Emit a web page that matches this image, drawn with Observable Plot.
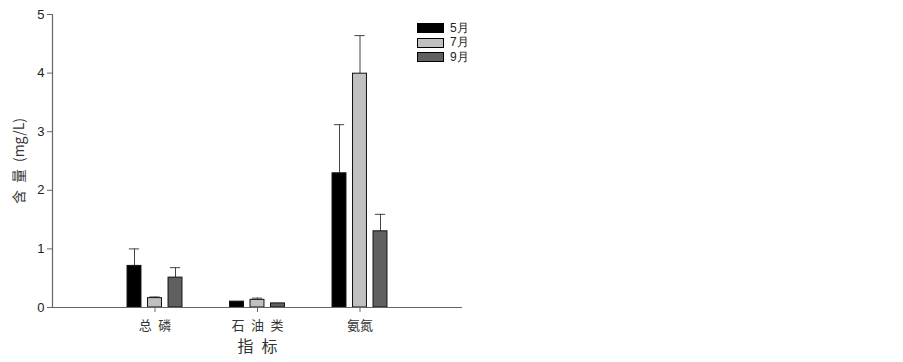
<!DOCTYPE html>
<html><head><meta charset="utf-8">
<script src="https://cdn.jsdelivr.net/npm/d3@7"></script>
<script src="https://cdn.jsdelivr.net/npm/@observablehq/plot@0.6"></script>
<style>
body{margin:0;background:#fff;}
#wrap{position:relative;width:903px;height:362px;}
#legend{position:absolute;left:417px;top:21px;font-family:"Liberation Sans",Arial,sans-serif;font-size:12px;color:#222;}
#legend .row{display:flex;align-items:center;height:14.5px;}
#legend .sw{width:25px;height:8px;border:1px solid #000;margin-right:6px;}
</style></head>
<body><div id="wrap"><div id="chart"></div><div id="legend"></div></div>
<script>
const categories = ["总磷", "石油类", "氨氮"];
const tickLabels = ["总\u2002磷", "石\u2002油\u2002类", "氨氮"];
const series = ["5月", "7月", "9月"];
const colors = ["#000000", "#c0c0c0", "#606060"];
const may = [0.71, 0.10, 2.29];
const jul = [0.16, 0.13, 3.99];
const sep = [0.51, 0.07, 1.30];
const mayErr = [0.29, 0.0, 0.83];
const julErr = [0.02, 0.03, 0.65];
const sepErr = [0.17, 0.0, 0.29];
const yTicks = [0, 1, 2, 3, 4, 5];

const vals = [may, jul, sep];
const errs = [mayErr, julErr, sepErr];
const data = [];
categories.forEach((c, i) => series.forEach((s, j) => {
  data.push({cat: c, series: s, pos: i + 1 + (j - 1) * 0.2, value: vals[j][i], err: errs[j][i]});
}));
const half = 0.068, cap = 0.05;
const errData = data.filter(d => d.err > 0);

const chart = Plot.plot({
  width: 903, height: 362,
  marginLeft: 52, marginRight: 441, marginTop: 14, marginBottom: 55,
  style: {fontFamily: "'Liberation Sans', Arial, sans-serif", fontSize: "13px", color: "#222", background: "#fff"},
  x: {type: "linear", domain: [0, 4]},
  y: {domain: [0, 5]},
  color: {domain: series, range: colors},
  marks: [
    Plot.ruleX(errData, {x: "pos", y1: "value", y2: d => d.value + d.err, stroke: "#444", strokeWidth: 1}),
    Plot.ruleY(errData, {y: d => d.value + d.err, x1: d => d.pos - cap, x2: d => d.pos + cap, stroke: "#444", strokeWidth: 1}),
    Plot.rectY(data, {x1: d => d.pos - half, x2: d => d.pos + half, y1: 0, y2: "value", fill: "series", stroke: "#111", strokeWidth: 1}),
    Plot.ruleY([0], {stroke: "#666", strokeWidth: 1.2}),
    Plot.ruleX([0], {stroke: "#666", strokeWidth: 1.2}),
    Plot.axisY({ticks: yTicks, tickSize: 5, tickPadding: 3, stroke: "#666", tickFormat: d => String(d),
      label: "含\u2002量\u2002(mg/L)", labelAnchor: "center", labelOffset: 38, labelArrow: "none",
      fontSize: 13}),
    Plot.axisX({ticks: [1, 2, 3], tickSize: 5, tickPadding: 8, stroke: "#666", fill: "#333",
      tickFormat: d => tickLabels[d - 1], fontFamily: "'Noto Sans CJK SC', sans-serif", fontSize: 13,
      label: "指\u2002标", labelAnchor: "center", labelOffset: 44, labelArrow: "none"})
  ]
});
document.getElementById("chart").appendChild(chart);
d3.select(chart).selectAll("[aria-label='y-axis label'] text, [aria-label='x-axis label'] text")
  .style("font-family", "'Noto Sans CJK SC', sans-serif").style("fill", "#333").style("white-space", "pre");
d3.select(chart).selectAll("[aria-label='x-axis label'] text").style("font-size", "16px");
d3.select(chart).selectAll("[aria-label='y-axis label'] text").style("font-size", "14px");

const legend = d3.select("#legend");
series.forEach((s, i) => {
  const row = legend.append("div").attr("class", "row");
  row.append("div").attr("class", "sw").style("background", colors[i]);
  row.append("span").text(s);
});
</script></body></html>
